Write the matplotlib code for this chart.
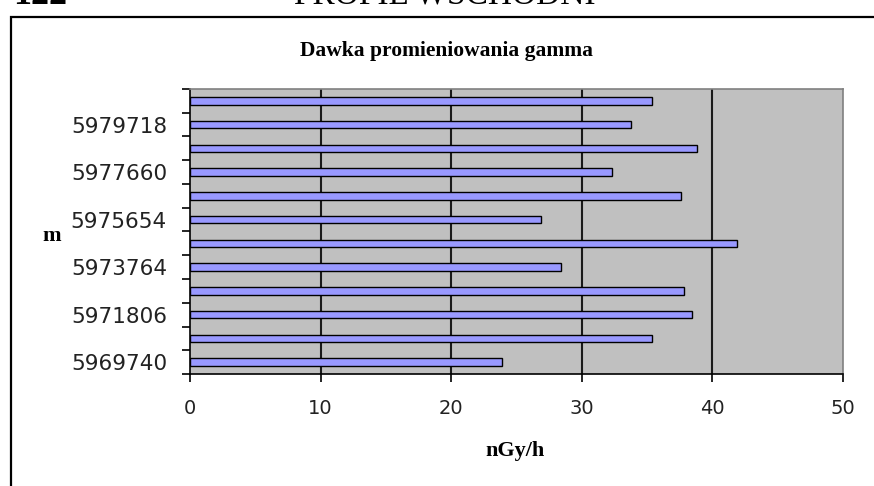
import numpy as np
import matplotlib.pyplot as plt
from matplotlib.patches import Rectangle

# gamma dose rate along the eastern profile, bottom of chart first
northing = ['5969740', '', '5971806', '', '5973764', '', '5975654', '', '5977660', '', '5979718', '']
dose = [23.9, 35.4, 38.4, 37.8, 28.4, 41.9, 26.9, 37.6, 32.3, 38.8, 33.8, 35.4]
x_ticks = [0, 10, 20, 30, 40, 50]

W, H = 874, 486
fig = plt.figure(figsize=(W / 100, H / 100), dpi=100)

# page header, mostly cut off by the top edge
fig.text(13 / W, 1 - 4 / H, '122', family='Liberation Serif', fontsize=26, fontweight='bold', va='baseline')
fig.text(294 / W, 1 - 4 / H, 'PROFIL WSCHODNI', family='Liberation Serif', fontsize=24, va='baseline')

# chart frame
fig.patches.append(Rectangle((11 / W, -0.1), 1.2, 1 - 17 / H + 0.1, transform=fig.transFigure,
                             fill=False, edgecolor='black', linewidth=1.6))

ax = fig.add_axes([190 / W, 1 - 374 / H, 653 / W, 285 / H])
ax.set_facecolor('#C0C0C0')

y = np.arange(len(dose))
ax.barh(y, dose, height=0.32, color='#9999FF', edgecolor='black', linewidth=1.0, zorder=3)

ax.set_xlim(0, 50)
ax.set_ylim(-0.5, len(dose) - 0.5)
ax.set_xticks(x_ticks)
ax.set_xticklabels([str(v) for v in x_ticks])
for v in x_ticks[1:-1]:
    ax.axvline(v, color='#1a1a1a', linewidth=1.5, zorder=2)

# labels sit at category centres, tick marks on category boundaries
ax.set_yticks(y)
ax.set_yticklabels(northing)
ax.set_yticks(np.arange(len(dose) + 1) - 0.5, minor=True)
ax.tick_params(axis='y', which='major', length=0, pad=23 * 0.72)
ax.tick_params(axis='y', which='minor', length=8 * 0.72, width=1.2, direction='out')
ax.tick_params(axis='x', length=8 * 0.72, width=1.2, direction='out', pad=17 * 0.72)
for lab in ax.get_yticklabels():
    lab.set_fontsize(15.5)
for lab in ax.get_xticklabels():
    lab.set_fontsize(14)
for lab in ax.get_xticklabels() + ax.get_yticklabels():
    lab.set_fontfamily('DejaVu Sans')
    lab.set_color('#222222')

for s in ('top', 'right'):
    ax.spines[s].set_color('#808080')
    ax.spines[s].set_linewidth(1.2)
for s in ('left', 'bottom'):
    ax.spines[s].set_color('black')
    ax.spines[s].set_linewidth(1.2)

fig.text(446 / W, 1 - 51 / H, 'Dawka promieniowania gamma', family='Liberation Serif',
         fontsize=15.5, fontweight='bold', ha='center', va='center')
fig.text(52 / W, 1 - 236 / H, 'm', family='Liberation Serif',
         fontsize=16, fontweight='bold', ha='center', va='center')
fig.text(515 / W, 1 - 451 / H, 'nGy/h', family='Liberation Serif',
         fontsize=16, fontweight='bold', ha='center', va='center')

fig.savefig('out.png', dpi=100)
